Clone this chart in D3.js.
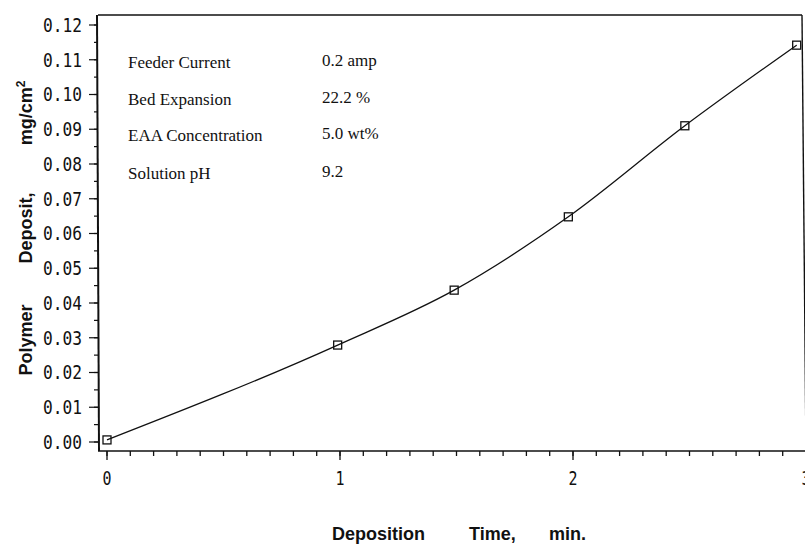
<!DOCTYPE html>
<html>
<head>
<meta charset="utf-8">
<script src="https://cdn.jsdelivr.net/npm/d3@7"></script>
<style>
  body { margin: 0; background: #fff; }
  svg { display: block; }
  .tick-label { font-family: "DejaVu Sans Mono", monospace; font-size: 19px; fill: #111; }
  .axis-title { font-family: "Liberation Sans", Arial, sans-serif; font-size: 18px; font-weight: bold; fill: #111; }
  .note { font-family: "Liberation Serif", "Times New Roman", serif; font-size: 17px; fill: #111; }
</style>
</head>
<body>
<svg id="chart"></svg>
<script>
// deposition time (min) and polymer deposit (mg/cm2)
const times = [0, 0.99, 1.49, 1.98, 2.48, 2.96];
const deposit = [0.0006, 0.0279, 0.0437, 0.0648, 0.0910, 0.1142];

const yTicks = [0, 0.01, 0.02, 0.03, 0.04, 0.05, 0.06, 0.07, 0.08, 0.09, 0.10, 0.11, 0.12];
const xTicks = [0, 1, 2, 3];

const noteLabels = ["Feeder Current", "Bed Expansion", "EAA Concentration", "Solution pH"];
const noteValues = ["0.2 amp", "22.2 %", "5.0 wt%", "9.2"];

const width = 805, height = 546;
const frame = {left: 98, top: 15, right: 802, bottom: 451};

const svg = d3.select("#chart").attr("width", width).attr("height", height);

const x = d3.scaleLinear().domain([0, 3]).range([107, 806]);
const y = d3.scaleLinear().domain([0, 0.12]).range([442, 25]);

const points = times.map((t, i) => ({t: t, v: deposit[i]}));

// frame
const ink = "#111";
svg.append("line").attr("x1", frame.left).attr("x2", frame.right)
    .attr("y1", frame.top).attr("y2", frame.top).attr("stroke", ink).attr("stroke-width", 1.4);
svg.append("line").attr("x1", frame.right).attr("x2", frame.right + 4)
    .attr("y1", frame.top).attr("y2", frame.bottom).attr("stroke", ink).attr("stroke-width", 1.4);
svg.append("line").attr("x1", frame.left - 1).attr("x2", frame.left + 1)
    .attr("y1", frame.top).attr("y2", frame.bottom).attr("stroke", ink).attr("stroke-width", 2);
svg.append("line").attr("x1", frame.left).attr("x2", width)
    .attr("y1", frame.bottom).attr("y2", frame.bottom).attr("stroke", ink).attr("stroke-width", 1.6);

// y ticks (major + half steps)
const yMinor = d3.range(0, 0.1201, 0.005);
svg.selectAll("line.ymin").data(yMinor).join("line")
    .attr("class", "ymin")
    .attr("x1", frame.left - 4).attr("x2", frame.left)
    .attr("y1", d => y(d)).attr("y2", d => y(d))
    .attr("stroke", ink).attr("stroke-width", 1.2);
svg.selectAll("line.ymaj").data(yTicks).join("line")
    .attr("class", "ymaj")
    .attr("x1", frame.left - 9).attr("x2", frame.left)
    .attr("y1", d => y(d)).attr("y2", d => y(d))
    .attr("stroke", ink).attr("stroke-width", 1.2);
svg.selectAll("text.ylab").data(yTicks).join("text")
    .attr("class", "ylab tick-label")
    .attr("x", 82)
    .attr("y", d => y(d))
    .attr("dy", "0.36em")
    .attr("text-anchor", "end")
    .attr("textLength", 39)
    .attr("lengthAdjust", "spacingAndGlyphs")
    .text(d => d3.format(".2f")(d));

// x ticks
const xMinor = d3.range(0, 3.001, 0.1);
svg.selectAll("line.xmin").data(xMinor).join("line")
    .attr("class", "xmin")
    .attr("x1", d => x(d)).attr("x2", d => x(d))
    .attr("y1", frame.bottom).attr("y2", frame.bottom + 5)
    .attr("stroke", ink).attr("stroke-width", 1.3);
svg.selectAll("line.xmaj").data(xTicks).join("line")
    .attr("class", "xmaj")
    .attr("x1", d => x(d)).attr("x2", d => x(d))
    .attr("y1", frame.bottom).attr("y2", frame.bottom + 9)
    .attr("stroke", ink).attr("stroke-width", 1.3);
svg.selectAll("text.xlab").data(xTicks).join("text")
    .attr("class", "xlab tick-label")
    .attr("x", d => x(d))
    .attr("y", 485)
    .attr("text-anchor", "middle")
    .attr("textLength", 9)
    .attr("lengthAdjust", "spacingAndGlyphs")
    .text(d => d);

// curve through the measured points
const line = d3.line().x(d => x(d.t)).y(d => y(d.v)).curve(d3.curveMonotoneX);
svg.append("path").datum(points)
    .attr("d", line)
    .attr("fill", "none")
    .attr("stroke", ink)
    .attr("stroke-width", 1.3);

svg.selectAll("rect.pt").data(points).join("rect")
    .attr("class", "pt")
    .attr("x", d => x(d.t) - 4).attr("y", d => y(d.v) - 4)
    .attr("width", 8).attr("height", 8)
    .attr("fill", "none").attr("stroke", ink).attr("stroke-width", 1.3);

// notes
const noteBase = [68, 105, 141, 179];
const valueBase = [66, 103, 139, 177];
svg.selectAll("text.nlab").data(noteLabels).join("text")
    .attr("class", "nlab note")
    .attr("x", 128).attr("y", (d, i) => noteBase[i])
    .text(d => d);
svg.selectAll("text.nval").data(noteValues).join("text")
    .attr("class", "nval note")
    .attr("x", 322).attr("y", (d, i) => valueBase[i])
    .text(d => d);

// axis titles
const xTitle = [{t: "Deposition", x: 332}, {t: "Time,", x: 469}, {t: "min.", x: 549}];
svg.selectAll("text.xt").data(xTitle).join("text")
    .attr("class", "xt axis-title")
    .attr("x", d => d.x).attr("y", 540)
    .text(d => d.t);

const yTitle = [{t: "Polymer", c: 340}, {t: "Deposit,", c: 228}];
svg.selectAll("text.yt").data(yTitle).join("text")
    .attr("class", "yt axis-title")
    .attr("transform", d => `translate(32, ${d.c}) rotate(-90)`)
    .attr("text-anchor", "middle")
    .text(d => d.t);
const unit = svg.append("text").attr("class", "axis-title")
    .attr("transform", "translate(32, 113) rotate(-90)")
    .attr("text-anchor", "middle");
unit.append("tspan").text("mg/cm");
unit.append("tspan").attr("dy", -7).style("font-size", "12px").text("2");
</script>
</body>
</html>
